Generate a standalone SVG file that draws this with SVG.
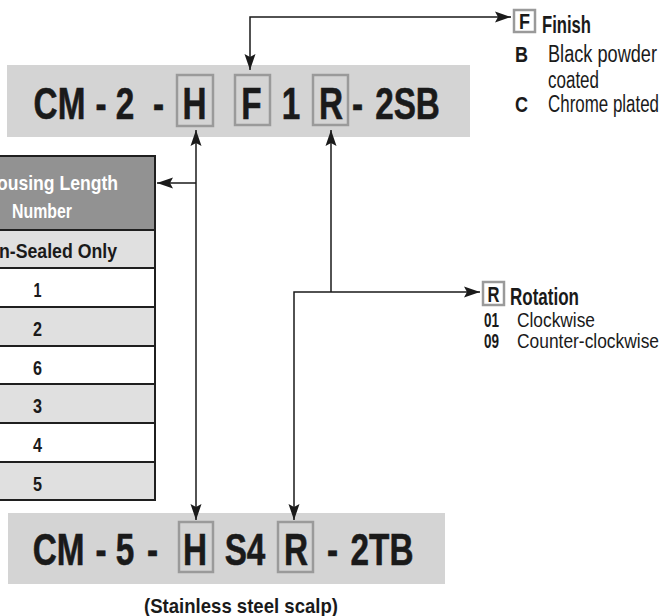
<svg xmlns="http://www.w3.org/2000/svg" width="666" height="616" viewBox="0 0 666 616">
<style>
.band{fill:#d4d4d4}
.box{fill:none;stroke:#9a9a9a;stroke-width:2.5}
.big{font-family:"Liberation Sans",Arial,sans-serif;font-weight:bold;font-size:45px;fill:#1a1a1a;stroke:#1a1a1a;stroke-width:0.6;text-anchor:middle}
.lb{font-family:"Liberation Sans",Arial,sans-serif;font-weight:bold;fill:#1a1a1a}
.lr{font-family:"Liberation Sans",Arial,sans-serif;font-weight:normal;fill:#1a1a1a}
.conn{fill:none;stroke:#1a1a1a;stroke-width:1.5}
.cell{stroke:#1f1f1f;stroke-width:2}
.tt{font-family:"Liberation Sans",Arial,sans-serif;font-weight:bold;font-size:21px;fill:#1a1a1a;text-anchor:middle}
</style>
<defs>
<marker id="ah" viewBox="0 0 16 12" refX="16" refY="6" markerWidth="16" markerHeight="12" markerUnits="userSpaceOnUse" orient="auto-start-reverse">
<path d="M0,0.5 L16,6 L0,11.5 L3,6 Z" fill="#1a1a1a"/>
</marker>
</defs>
<rect width="666" height="616" fill="#ffffff"/>

<g id="code-top">
<rect class="band" x="7" y="65" width="463" height="72"/>
<rect class="box" x="177" y="75" width="36" height="51"/>
<rect class="box" x="235" y="75" width="35" height="50"/>
<rect class="box" x="313" y="75" width="35" height="50"/>
<g transform="scale(0.74,1)">
<text class="big" x="80.4" y="119">CM</text>
<text class="big" x="136.5" y="119">-</text>
<text class="big" x="168.9" y="119">2</text>
<text class="big" x="214.2" y="119">-</text>
<text class="big" x="262.8" y="119">H</text>
<text class="big" x="339.9" y="119">F</text>
<text class="big" x="393.2" y="119">1</text>
<text class="big" x="447.3" y="119">R</text>
<text class="big" x="483.1" y="119">-</text>
<text class="big" x="550.7" y="119">2SB</text>
</g>
</g>

<g id="code-bottom">
<rect class="band" x="8" y="513" width="437" height="71"/>
<rect class="box" x="179" y="522" width="34" height="50"/>
<rect class="box" x="278" y="522" width="35" height="50"/>
<g transform="scale(0.74,1)">
<text class="big" x="79.1" y="565">CM</text>
<text class="big" x="136.5" y="565">-</text>
<text class="big" x="168.9" y="565">5</text>
<text class="big" x="206.1" y="565">-</text>
<text class="big" x="263.5" y="565">H</text>
<text class="big" x="331.1" y="565">S4</text>
<text class="big" x="400" y="565">R</text>
<text class="big" x="449.3" y="565">-</text>
<text class="big" x="516.2" y="565">2TB</text>
</g>
<text class="lb" x="241" y="613" font-size="21" text-anchor="middle" textLength="194" lengthAdjust="spacingAndGlyphs">(Stainless steel scalp)</text>
</g>

<g id="finish">
<rect class="box" x="514" y="10" width="21" height="22" stroke-width="2"/>
<text class="lb" x="524.5" y="29" font-size="22" text-anchor="middle" textLength="11" lengthAdjust="spacingAndGlyphs">F</text>
<text class="lb" x="542" y="33" font-size="24" textLength="49" lengthAdjust="spacingAndGlyphs">Finish</text>
<text class="lb" x="515" y="62" font-size="22" textLength="13" lengthAdjust="spacingAndGlyphs">B</text>
<text class="lr" x="548" y="62" font-size="23" textLength="109" lengthAdjust="spacingAndGlyphs">Black powder</text>
<text class="lr" x="548" y="88" font-size="23" textLength="51" lengthAdjust="spacingAndGlyphs">coated</text>
<text class="lb" x="515" y="112" font-size="22" textLength="13" lengthAdjust="spacingAndGlyphs">C</text>
<text class="lr" x="548" y="112" font-size="23" textLength="111" lengthAdjust="spacingAndGlyphs">Chrome plated</text>
</g>

<g id="rotation">
<rect class="box" x="483" y="282" width="21" height="23" stroke-width="2"/>
<text class="lb" x="493.5" y="302" font-size="22" text-anchor="middle" textLength="12" lengthAdjust="spacingAndGlyphs">R</text>
<text class="lb" x="510" y="305" font-size="24" textLength="69" lengthAdjust="spacingAndGlyphs">Rotation</text>
<text class="lb" x="484" y="327" font-size="20" textLength="15" lengthAdjust="spacingAndGlyphs">01</text>
<text class="lr" x="517" y="327" font-size="20" textLength="78" lengthAdjust="spacingAndGlyphs">Clockwise</text>
<text class="lb" x="484" y="348" font-size="20" textLength="15" lengthAdjust="spacingAndGlyphs">09</text>
<text class="lr" x="517" y="348" font-size="20" textLength="142" lengthAdjust="spacingAndGlyphs">Counter-clockwise</text>
</g>

<g id="table">
<rect class="cell" x="-5" y="156" width="160" height="74" fill="#929292"/>
<rect class="cell" x="-5" y="230" width="160" height="38" fill="#e0e0e0"/>
<rect class="cell" x="-5" y="268" width="160" height="39" fill="#ffffff"/>
<rect class="cell" x="-5" y="307" width="160" height="39" fill="#e0e0e0"/>
<rect class="cell" x="-5" y="346" width="160" height="38" fill="#ffffff"/>
<rect class="cell" x="-5" y="384" width="160" height="39" fill="#e0e0e0"/>
<rect class="cell" x="-5" y="423" width="160" height="39" fill="#ffffff"/>
<rect class="cell" x="-5" y="462" width="160" height="38" fill="#e0e0e0"/>
<text class="tt" x="-3" y="190" style="fill:#ffffff;text-anchor:start" textLength="121" lengthAdjust="spacingAndGlyphs">ousing Length</text>
<text class="tt" x="12" y="218" style="fill:#ffffff;text-anchor:start" textLength="60" lengthAdjust="spacingAndGlyphs">Number</text>
<text class="tt" x="-1" y="258" style="text-anchor:start" textLength="118" lengthAdjust="spacingAndGlyphs">n-Sealed Only</text>
<text class="tt" x="37.5" y="297" textLength="8" lengthAdjust="spacingAndGlyphs">1</text>
<text class="tt" x="37.5" y="336" textLength="9" lengthAdjust="spacingAndGlyphs">2</text>
<text class="tt" x="37.5" y="375" textLength="9" lengthAdjust="spacingAndGlyphs">6</text>
<text class="tt" x="37.5" y="413" textLength="9" lengthAdjust="spacingAndGlyphs">3</text>
<text class="tt" x="37.5" y="452" textLength="9" lengthAdjust="spacingAndGlyphs">4</text>
<text class="tt" x="37.5" y="491" textLength="9" lengthAdjust="spacingAndGlyphs">5</text>
</g>

<g id="connectors">
<path class="conn" d="M250,70 V17 H511" marker-start="url(#ah)" marker-end="url(#ah)"/>
<path class="conn" d="M196,130 V520" marker-start="url(#ah)" marker-end="url(#ah)"/>
<path class="conn" d="M196,183 H157" marker-end="url(#ah)"/>
<path class="conn" d="M331,130 V292" marker-start="url(#ah)"/>
<path class="conn" d="M294,520 V292 H480" marker-start="url(#ah)" marker-end="url(#ah)"/>
</g>
</svg>
